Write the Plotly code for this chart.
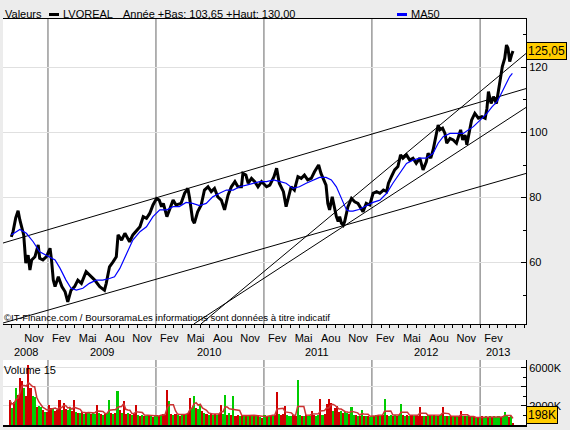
import plotly.graph_objects as go
import pandas as pd

# ---------------- data ----------------
price_dates = [
 "2008-08-30","2008-09-05","2008-09-14","2008-09-22","2008-09-28","2008-10-03","2008-10-11","2008-10-14","2008-10-18","2008-10-26",
 "2008-11-01","2008-11-07","2008-11-18","2008-11-29","2008-12-04","2008-12-15","2008-12-27","2009-01-08","2009-01-13","2009-01-19",
 "2009-01-25","2009-02-05","2009-02-17","2009-02-28","2009-03-09","2009-03-20","2009-04-01","2009-04-12","2009-04-24","2009-05-10",
 "2009-05-21","2009-06-08","2009-06-25","2009-07-11","2009-07-17","2009-07-28","2009-08-09","2009-08-20","2009-08-26","2009-09-07",
 "2009-09-18","2009-10-04","2009-10-15","2009-11-08","2009-11-19","2009-11-30","2009-12-11","2009-12-22","2010-01-03","2010-01-12",
 "2010-01-20","2010-01-26","2010-02-07","2010-02-18","2010-02-28","2010-03-10","2010-03-27","2010-04-08","2010-04-19","2010-04-25",
 "2010-05-05","2010-05-11","2010-05-22","2010-06-03","2010-06-14","2010-06-26","2010-07-07","2010-07-18","2010-07-29","2010-08-10",
 "2010-08-21","2010-09-02","2010-09-13","2010-09-25","2010-10-05","2010-10-17","2010-10-22","2010-11-01","2010-11-09","2010-11-20",
 "2010-12-01","2010-12-12","2010-12-24","2011-01-10","2011-01-21","2011-02-04","2011-02-13","2011-02-22","2011-02-28","2011-03-08",
 "2011-03-17","2011-03-22","2011-04-03","2011-04-14","2011-04-26","2011-05-07","2011-05-18","2011-05-29","2011-06-10","2011-06-21",
 "2011-07-05","2011-07-13","2011-07-21","2011-07-30","2011-08-05","2011-08-11","2011-08-20","2011-08-28","2011-09-03","2011-09-09",
 "2011-09-14","2011-09-20","2011-09-26","2011-10-01","2011-10-07","2011-10-12","2011-10-24","2011-11-04","2011-11-15","2011-11-27",
 "2011-12-02","2011-12-13","2011-12-25","2012-01-05","2012-01-17","2012-01-28","2012-02-09","2012-02-20","2012-02-26","2012-03-07",
 "2012-03-18","2012-03-29","2012-04-07","2012-04-15","2012-04-27","2012-05-08","2012-05-19","2012-05-30","2012-06-11","2012-06-22",
 "2012-07-03","2012-07-09","2012-07-18","2012-07-26","2012-08-01","2012-08-07","2012-08-12","2012-08-18","2012-08-27","2012-09-04",
 "2012-09-10","2012-09-21","2012-10-02","2012-10-13","2012-10-19","2012-10-27","2012-11-03","2012-11-11","2012-11-17","2012-11-28",
 "2012-12-03","2012-12-14","2012-12-26","2013-01-07","2013-01-18","2013-01-24","2013-01-29","2013-02-07","2013-02-15","2013-02-25",
 "2013-03-02","2013-03-08","2013-03-17","2013-03-25","2013-03-31","2013-04-05","2013-04-11","2013-04-17","2013-04-22"]
price_vals = [
 67.9,69.5,73.7,75.9,73.1,71.0,68.5,64.9,59.8,62.3,
 57.7,60.8,61.8,65.4,61.3,60.8,61.8,64.4,60.8,54.6,
 52.6,55.6,52.6,51.0,47.9,51.5,52.6,54.6,53.6,57.2,
 56.2,54.6,52.6,51.5,53.6,58.7,60.2,61.8,68.5,66.9,
 69.0,66.4,68.5,71.0,74.1,73.6,75.1,77.7,79.7,79.2,
 77.2,78.2,74.1,76.7,79.2,77.7,78.2,81.3,82.8,79.7,
 73.1,72.1,75.6,77.7,82.3,83.3,81.8,82.8,80.2,79.2,
 76.2,80.8,83.3,84.9,83.3,83.3,87.4,86.9,84.4,85.9,
 84.9,83.3,84.9,83.3,83.8,86.4,89.0,84.4,83.3,81.8,
 77.2,79.2,83.3,82.3,86.4,85.9,86.9,85.4,85.9,87.9,
 90.0,87.4,85.9,83.8,78.2,76.2,80.2,76.7,74.1,72.6,
 74.1,72.1,71.5,72.6,75.1,77.2,79.7,78.7,78.2,76.2,
 75.6,78.2,77.7,81.3,81.8,81.3,82.3,81.8,84.4,86.4,
 88.5,89.5,93.1,92.1,93.1,91.5,92.1,90.5,92.1,88.5,
 91.0,93.6,92.1,94.6,97.7,99.7,102.3,100.8,101.3,99.7,
 96.7,98.2,97.7,96.7,98.7,100.8,97.7,99.2,96.2,100.8,
 103.8,105.9,104.4,104.9,104.4,107.4,112.6,108.9,111.0,108.9,
 112.0,116.2,120.3,122.8,126.9,125.9,121.8,123.8,125.05]

ma_dates = [
 "2008-08-30","2008-09-28","2008-10-20","2008-11-12","2008-12-04","2008-12-27","2009-01-25","2009-02-11","2009-03-03","2009-03-20",
 "2009-04-07","2009-04-29","2009-05-21","2009-06-13","2009-07-05","2009-07-28","2009-08-14","2009-09-01","2009-09-24","2009-10-15",
 "2009-11-08","2009-11-30","2009-12-22","2010-01-14","2010-02-07","2010-02-28","2010-03-21","2010-04-13","2010-05-05","2010-05-28",
 "2010-06-20","2010-07-12","2010-08-04","2010-08-27","2010-09-19","2010-10-11","2010-11-03","2010-11-26","2010-12-18","2011-01-10",
 "2011-02-02","2011-02-25","2011-03-17","2011-04-09","2011-05-01","2011-05-24","2011-06-15","2011-07-08","2011-07-30","2011-08-17",
 "2011-09-03","2011-09-14","2011-09-26","2011-10-07","2011-10-18","2011-10-29","2011-11-18","2011-12-13","2012-01-05","2012-01-28",
 "2012-02-20","2012-03-12","2012-04-04","2012-04-27","2012-05-19","2012-06-11","2012-07-03","2012-07-26","2012-08-12","2012-08-29",
 "2012-09-21","2012-10-13","2012-11-05","2012-11-22","2012-12-09","2013-01-01","2013-01-24","2013-02-10","2013-02-27","2013-03-08",
 "2013-03-19","2013-03-31","2013-04-11","2013-04-20"]
ma_vals = [
 68.5,70.2,69.0,66.4,63.3,62.3,60.8,58.2,54.6,52.1,
 51.5,52.1,53.6,54.6,54.6,55.1,55.6,58.2,62.8,66.9,
 69.5,71.0,74.1,76.2,76.2,77.2,77.2,78.5,78.2,77.5,
 78.2,80.2,81.3,82.3,82.3,83.3,83.8,84.4,84.9,84.9,
 85.4,84.9,84.4,82.8,83.3,84.4,85.4,86.2,86.2,85.4,
 83.3,80.8,78.2,76.2,75.8,75.8,76.3,77.5,78.5,79.2,
 81.3,84.4,87.4,90.5,91.5,92.1,92.1,93.6,96.7,98.7,
 99.7,99.7,99.7,100.8,101.8,103.8,105.9,107.9,109.5,111.0,
 113.1,115.1,117.2,118.2]

# trend lines: (dates, values)
trend_upper = (["2008-08-02", "2013-06-05"], [66.0, 113.5])
trend_lower = (["2008-08-02", "2013-06-05"], [41.4, 87.4])
trend_steep_a = (["2010-06-02", "2013-06-05"], [41.1, 124.3])
trend_steep_b = (["2010-05-09", "2013-06-05"], [41.1, 107.7])

# weekly volumes (K), first Monday of each block, and direction (g = up, r = down)
vol_2008_start = "2008-08-25"
vol_2008 = [2600,1800,2400,3900,3200,4900,4600,3900,3000,6300,3900,3000,2900,1900,2000,1900,1600,1400,1400]
dir_2008 = "rgrgrrrgrrrggrggrgr"
vol_2009_start = "2009-01-05"
vol_2009 = [2100,1800,1700,1500, 1600,2600,1600,2300, 1700,1600,1800,1500,2600, 1400,1300,1300,1400,
            1200,1300,1400,1200, 1300,1200,2100,1300,1200, 1100,1200,1300,2600, 1300,1200,1300,3600,1600,
            1300,2500,1200,1300, 1200,1100,1200,2100, 1100,1000,1100,1000,1000, 1100,900,800,900]
dir_2009 = "rrgr"+"rrgr"+"rggrr"+"grgr"+"grgr"+"ggrgr"+"grgg"+"rgrgr"+"grrg"+"rgrr"+"grgrg"+"rgrg"
vol_2010_start = "2010-01-04"
vol_2010 = [1100,1000,1100,1200, 1100,3700,2500,1200, 1100,1200,1100,1000,1100, 1200,1200,1300,2800,
            1800,3000,1800,1700,2200, 1500,1300,1200,1100, 1200,1100,1200,1100, 1200,2100,1200,3200,1100,
            1300,1100,3000,1000, 1100,1000,1000,1100, 900,1000,1100,1000,1000, 900,1000,800,700]
dir_2010 = "grgr"+"rrgr"+"grgrg"+"rgrr"+"ggrgg"+"rgrg"+"rgrg"+"rrggr"+"grgr"+"rgrg"+"rgrgr"+"grgr"
vol_2011_start = "2011-01-03"
vol_2011 = [1100,1000,1000,1100,1000, 1100,3500,1200,1100, 1200,2000,1100,1000, 1000,1100,1000,4700,
            1100,1000,1000,1100,1000, 1000,1500,1100,1000, 1100,2700,1100,1200, 2200,2700,2300,1500,1800,
            2000,1400,1500,1300, 1400,1300,1200,1900,1100, 1100,1000,1000,1600, 1000,1000,900,800]
dir_2011 = "grgrg"+"rrgr"+"rrgg"+"grrg"+"grgrg"+"grrg"+"grgr"+"rrrgr"+"rrgr"+"ggrgg"+"rgrg"+"rgrg"
vol_2012_start = "2012-01-02"
vol_2012 = [1000,1000,1100,1000,1000, 1100,2700,1100,1000, 1100,1000,1100,1000, 1100,2200,1100,1000,1100,
            1000,1100,1000,1000, 1000,1900,1000,1000, 1000,1100,1000,1000,1100, 1000,1000,1100,1900,
            1000,900,1000,900, 900,1000,900,900,1500, 900,900,1000,900, 900,800,700,800,800]
dir_2012 = "grgrg"+"rgrg"+"grgr"+"ggrgr"+"grgr"+"rrrg"+"rgrgr"+"grgr"+"grgr"+"grgrr"+"grgr"+"grgrg"
vol_2013_start = "2013-01-07"
vol_2013 = [900,800,900,800, 900,800,900,800, 900,800,900,1400, 900,800,900,198]
dir_2013 = "rggr"+"grgg"+"grgg"+"grgr"

# axis labels
month_ticks = ["2008-11-15","2009-02-15","2009-05-15","2009-08-15","2009-11-15","2010-02-15","2010-05-15",
               "2010-08-15","2010-11-15","2011-02-15","2011-05-15","2011-08-15","2011-11-15","2012-02-15",
               "2012-05-15","2012-08-15","2012-11-15","2013-02-15"]
month_names = {11: "Nov", 2: "Fev", 5: "Mai", 8: "Aou"}
year_labels = ["2008", "2009", "2010", "2011", "2012", "2013"]
year_label_dates = ["2008-10-18", "2009-07-01", "2010-07-01", "2011-07-01", "2012-07-01", "2013-03-01"]
year_starts = ["2009-01-01", "2010-01-01", "2011-01-01", "2012-01-01", "2013-01-01"]
x_range = ["2008-08-02", "2013-06-05"]

# ---------------- build ----------------
vol_dates, vol_vals, vol_cols = [], [], []
for start, vals, dirs in [(vol_2008_start, vol_2008, dir_2008), (vol_2009_start, vol_2009, dir_2009),
                          (vol_2010_start, vol_2010, dir_2010), (vol_2011_start, vol_2011, dir_2011),
                          (vol_2012_start, vol_2012, dir_2012), (vol_2013_start, vol_2013, dir_2013)]:
    n = min(len(vals), len(dirs))
    vol_dates += list(pd.date_range(start, periods=n, freq="7D"))
    vol_vals += vals[:n]
    vol_cols += ["#00cc00" if d == "g" else "#d00000" for d in dirs[:n]]
vol_ma = pd.Series(vol_vals).rolling(4, min_periods=1).mean().tolist()

W, H = 570, 430
def px(x):
    return x / W
def py(y):
    return 1 - y / H

FONT = "Liberation Sans, Arial, sans-serif"
fig = go.Figure()

for xs, ys in [trend_upper, trend_lower, trend_steep_a, trend_steep_b]:
    fig.add_trace(go.Scatter(x=xs, y=ys, mode="lines", line=dict(color="black", width=1),
                             xaxis="x", yaxis="y", hoverinfo="skip"))
fig.add_trace(go.Scatter(x=price_dates, y=price_vals, mode="lines",
                         line=dict(color="black", width=3), xaxis="x", yaxis="y"))
fig.add_trace(go.Scatter(x=ma_dates, y=ma_vals, mode="lines",
                         line=dict(color="#0000ff", width=1.2), xaxis="x", yaxis="y"))

fig.add_trace(go.Bar(x=vol_dates, y=vol_vals, marker=dict(color=vol_cols, line=dict(width=0)),
                     width=7 * 86400000, xaxis="x2", yaxis="y2"))
fig.add_trace(go.Scatter(x=vol_dates, y=vol_ma, mode="lines", line=dict(color="#cc3333", width=1.5),
                         xaxis="x2", yaxis="y2"))

xdom = [px(3), px(526)]
fig.update_layout(
    width=W, height=H, autosize=False,
    margin=dict(l=0, r=0, t=0, b=0),
    paper_bgcolor="#ececec", plot_bgcolor="white",
    showlegend=False, bargap=0,
    font=dict(family=FONT, size=11, color="black"),
    xaxis=dict(domain=xdom, type="date", range=x_range, anchor="y",
               tickvals=month_ticks,
               ticktext=[month_names[pd.Timestamp(t).month] for t in month_ticks],
               ticks="", showgrid=False, zeroline=False,
               showline=True, linecolor="black", linewidth=1, mirror=True,
               tickfont=dict(size=11), ticklabelstandoff=4,
               minor=dict(ticks="outside", ticklen=3, tickcolor="black", dtick="M1",
                          tick0="2008-08-01", showgrid=False)),
    yaxis=dict(domain=[py(324), py(19)], range=[41.1, 134.9], side="right", anchor="x",
               tickvals=[60, 80, 100, 120], ticks="inside", ticklen=5, tickcolor="black",
               showgrid=True, gridcolor="#e0e0e0", gridwidth=1, zeroline=False,
               showline=True, linecolor="black", linewidth=1,
               tickfont=dict(size=11),
               minor=dict(ticks="inside", ticklen=3, tickcolor="black", dtick=10, tick0=0, showgrid=False)),
    xaxis2=dict(domain=xdom, type="date", matches="x", anchor="y2", showticklabels=False,
                ticks="", showgrid=False, zeroline=False,
                showline=True, linecolor="black", linewidth=1.5),
    yaxis2=dict(domain=[py(425), py(360)], range=[0, 6840], side="right", anchor="x2",
                tickvals=[2000, 4000, 6000], ticktext=["2000K", "", "6000K"],
                ticks="inside", ticklen=5, tickcolor="black",
                showgrid=True, gridcolor="#e0e0e0", zeroline=False,
                showline=True, linecolor="black", linewidth=1,
                tickfont=dict(size=11),
                minor=dict(ticks="inside", ticklen=3, tickcolor="black", dtick=1000, tick0=0, showgrid=False)),
)

shapes = []
for d in year_starts:
    for yr in ["y domain", "y2 domain"]:
        shapes.append(dict(type="line", xref="x", yref=yr, x0=d, x1=d, y0=0, y1=1,
                           line=dict(color="#999999", width=1.5), layer="below"))
# legend markers
shapes.append(dict(type="rect", xref="paper", yref="paper", x0=px(49), x1=px(59), y0=py(16), y1=py(13),
                   fillcolor="black", line=dict(width=0)))
shapes.append(dict(type="rect", xref="paper", yref="paper", x0=px(397), x1=px(407), y0=py(16), y1=py(13),
                   fillcolor="#0000ff", line=dict(width=0)))
fig.update_layout(shapes=shapes)

ann = []
def txt(x, y, s, size=11, **kw):
    ann.append(dict(xref="paper", yref="paper", x=px(x), y=py(y), text=s, showarrow=False,
                    xanchor="left", yanchor="middle", font=dict(size=size, family=FONT), **kw))
txt(3, 14, "Valeurs")
txt(61, 14, "LVOREAL")
txt(121, 14, "Année +Bas: 103,65 +Haut: 130,00")
txt(409, 14, "MA50")
txt(2, 317, "©IT-Finance.com / BoursoramaLes informations sont données à titre indicatif", size=9.6)
txt(2, 370, "Volume 15", size=11)
for lab, d in zip(year_labels, year_label_dates):
    ann.append(dict(xref="x", yref="paper", x=d, y=py(352), text=lab, showarrow=False,
                    xanchor="center", yanchor="middle", font=dict(size=11, family=FONT)))
# last value boxes
ann.append(dict(xref="paper", yref="y", x=px(526), y=price_vals[-1],
                text=f"{price_vals[-1]:.2f}".replace(".", ","), showarrow=False,
                xanchor="left", yanchor="middle", bgcolor="#ffcc00", bordercolor="black",
                borderwidth=1, borderpad=1, font=dict(size=12, family=FONT)))
ann.append(dict(xref="paper", yref="paper", x=px(526), y=py(415), text=f"{vol_vals[-1]}K",
                showarrow=False, xanchor="left", yanchor="middle", bgcolor="#ffcc00",
                bordercolor="black", borderwidth=1, borderpad=1, font=dict(size=12, family=FONT)))
fig.update_layout(annotations=ann)

fig.write_html("out.html")
